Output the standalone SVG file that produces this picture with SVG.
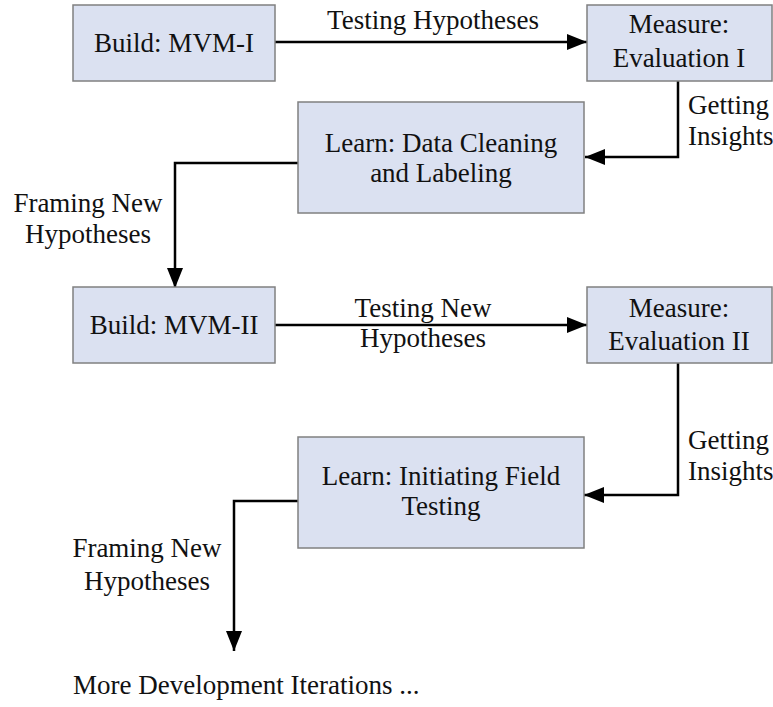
<svg xmlns="http://www.w3.org/2000/svg" width="773" height="707" viewBox="0 0 773 707">
  <defs>
    <style>
      .box { fill: #dbe1f1; stroke: #808080; stroke-width: 1.5; }
      .txt { font-family: "Liberation Serif", "Times New Roman", serif; font-size: 27px; fill: #111; }
      .mid { text-anchor: middle; }
      .edge { fill: none; stroke: #000; stroke-width: 2.5; }
    </style>
    <marker id="arrow" viewBox="0 0 20 16" refX="20" refY="8" markerWidth="20" markerHeight="16" markerUnits="userSpaceOnUse" orient="auto">
      <path d="M0,0 L20,8 L0,16 Z" fill="#000"/>
    </marker>
  </defs>

  <rect width="773" height="707" fill="#fff"/>

  <!-- connectors -->
  <g id="connectors">
    <path class="edge" d="M275,42 H587" marker-end="url(#arrow)"/>
    <text class="txt mid" x="433" y="29">Testing Hypotheses</text>

    <path class="edge" d="M678,81 V157 H585" marker-end="url(#arrow)"/>
    <text class="txt" x="688" y="114">Getting</text>
    <text class="txt" x="688" y="145">Insights</text>

    <path class="edge" d="M298,163 H175 V288" marker-end="url(#arrow)"/>
    <text class="txt mid" x="88" y="212">Framing New</text>
    <text class="txt mid" x="88" y="243">Hypotheses</text>

    <path class="edge" d="M275,325 H587" marker-end="url(#arrow)"/>
    <text class="txt mid" x="423" y="317">Testing New</text>
    <text class="txt mid" x="423" y="347">Hypotheses</text>

    <path class="edge" d="M678,363 V495 H584" marker-end="url(#arrow)"/>
    <text class="txt" x="688" y="449">Getting</text>
    <text class="txt" x="688" y="480">Insights</text>

    <path class="edge" d="M298,501 H234 V651" marker-end="url(#arrow)"/>
    <text class="txt mid" x="147" y="557">Framing New</text>
    <text class="txt mid" x="147" y="590">Hypotheses</text>
  </g>

  <!-- nodes -->
  <g id="build1">
    <rect class="box" x="73" y="5" width="202" height="76"/>
    <text class="txt mid" x="174" y="52">Build: MVM-I</text>
  </g>

  <g id="measure1">
    <rect class="box" x="587" y="5" width="185" height="76"/>
    <text class="txt mid" x="679" y="33">Measure:</text>
    <text class="txt mid" x="679" y="67">Evaluation I</text>
  </g>

  <g id="learn1">
    <rect class="box" x="298" y="102" width="286" height="111"/>
    <text class="txt mid" x="441" y="152">Learn: Data Cleaning</text>
    <text class="txt mid" x="441" y="182">and Labeling</text>
  </g>

  <g id="build2">
    <rect class="box" x="73" y="287" width="202" height="76"/>
    <text class="txt mid" x="174" y="334">Build: MVM-II</text>
  </g>

  <g id="measure2">
    <rect class="box" x="587" y="287" width="185" height="76"/>
    <text class="txt mid" x="679" y="317">Measure:</text>
    <text class="txt mid" x="679" y="350">Evaluation II</text>
  </g>

  <g id="learn2">
    <rect class="box" x="298" y="437" width="286" height="111"/>
    <text class="txt mid" x="441" y="485">Learn: Initiating Field</text>
    <text class="txt mid" x="441" y="515">Testing</text>
  </g>

  <g id="more">
    <text class="txt" x="73" y="694">More Development Iterations ...</text>
  </g>
</svg>
